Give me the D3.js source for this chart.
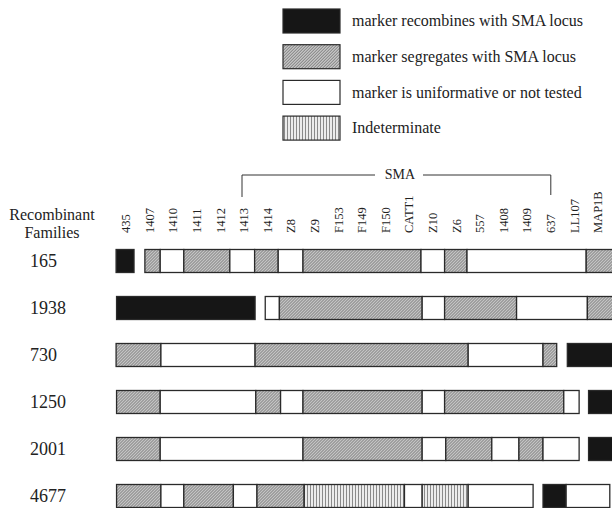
<!DOCTYPE html>
<html>
<head>
<meta charset="utf-8">
<script src="https://cdn.jsdelivr.net/npm/d3@7"></script>
<style>
	body { margin: 0; background: #fff; }
	text { font-family: "Liberation Serif", "Times New Roman", serif; fill: #222; }
</style>
</head>
<body>
<svg id="chart" width="612" height="508"></svg>
<script>
// marker names along the chromosome (left to right)
let markers = ["435", "1407", "1410", "1411", "1412", "1413", "1414", "Z8", "Z9", "F153",
	"F149", "F150", "CATT1", "Z10", "Z6", "557", "1408", "1409", "637", "LL107", "MAP1B"];

let families = ["165", "1938", "730", "1250", "2001", "4677"];

// segments per family: [from, to, type] in marker units (0 = 435, 0.5 = between 435 and 1407)
// R = recombines, S = segregates, U = uninformative, I = indeterminate
let seg165 = [[-0.42, 0.34, "R"], [0.8, 1.45, "S"], [1.45, 2.45, "U"], [2.45, 4.4, "S"], [4.4, 5.45, "U"],
	[5.45, 6.45, "S"], [6.45, 7.5, "U"], [7.5, 12.5, "S"], [12.5, 13.5, "U"], [13.5, 14.45, "S"],
	[14.45, 19.5, "U"], [19.5, 20.8, "S"]];
let seg1938 = [[-0.4, 5.47, "R"], [5.9, 6.5, "U"], [6.5, 12.55, "S"], [12.55, 13.5, "U"], [13.5, 16.55, "S"],
	[16.55, 19.55, "U"], [19.55, 20.8, "S"]];
let seg730 = [[-0.42, 1.48, "S"], [1.48, 5.47, "U"], [5.47, 14.5, "S"], [14.5, 17.67, "U"], [17.67, 18.25, "S"],
	[18.7, 20.8, "R"]];
let seg1250 = [[-0.4, 1.45, "S"], [1.45, 5.5, "U"], [5.5, 6.55, "S"], [6.55, 7.5, "U"], [7.5, 12.55, "S"],
	[12.55, 13.5, "U"], [13.5, 18.55, "S"], [18.55, 19.2, "U"], [19.6, 20.8, "R"]];
let seg2001 = [[-0.4, 1.45, "S"], [1.45, 7.5, "U"], [7.5, 12.55, "S"], [12.55, 13.55, "U"], [13.55, 15.5, "S"],
	[15.5, 16.65, "U"], [16.65, 17.67, "S"], [17.67, 19.2, "U"], [19.6, 20.8, "R"]];
let seg4677 = [[-0.4, 1.48, "S"], [1.48, 2.45, "U"], [2.45, 4.55, "S"], [4.55, 5.55, "U"], [5.55, 7.55, "S"],
	[7.55, 11.8, "I"], [11.8, 12.55, "U"], [12.55, 14.5, "I"], [14.5, 17.25, "U"], [17.67, 18.65, "R"],
	[18.65, 20.5, "U"]];
let segments = [seg165, seg1938, seg730, seg1250, seg2001, seg4677];

let legendKeys = ["R", "S", "U", "I"];
let legendLabels = ["marker recombines with SMA locus", "marker segregates with SMA locus",
	"marker is uniformative or not tested", "Indeterminate"];

// SMA interval spans these markers
let smaFrom = "1413";
let smaTo = "637";

let svg = d3.select("#chart");

// patterns
let defs = svg.append("defs");
let hatch = defs.append("pattern")
	.attr("id", "hatch")
	.attr("patternUnits", "userSpaceOnUse")
	.attr("width", 3).attr("height", 3);
hatch.append("rect").attr("width", 3).attr("height", 3).attr("fill", "#c4c4c4");
hatch.append("path").attr("d", "M-1,1 L1,-1 M0,3 L3,0 M2,4 L4,2")
	.attr("stroke", "#666").attr("stroke-width", 0.8);

let vlines = defs.append("pattern")
	.attr("id", "vlines")
	.attr("patternUnits", "userSpaceOnUse")
	.attr("width", 3).attr("height", 3);
vlines.append("rect").attr("width", 3).attr("height", 3).attr("fill", "#ececec");
vlines.append("rect").attr("x", 1).attr("width", 1).attr("height", 3).attr("fill", "#8a8a8a");

let fills = { R: "#161616", S: "url(#hatch)", U: "#fff", I: "url(#vlines)" };

// scales
let xScale = d3.scaleLinear().domain([0, markers.length - 1]).range([126, 598]);
let yScale = d3.scalePoint().domain(families).range([261, 496]);
let barH = 23;

// column labels (read bottom to top)
svg.append("g").selectAll("text")
	.data(markers)
	.join("text")
	.attr("transform", (d, i) => "translate(" + xScale(i) + ",233) rotate(-90)")
	.attr("dy", "0.33em")
	.attr("text-anchor", "start")
	.attr("font-size", 12.5)
	.text(d => d);

// SMA bracket
let sx0 = xScale(markers.indexOf(smaFrom)) - 2;
let sx1 = xScale(markers.indexOf(smaTo));
let smaMid = 400;
let bracket = svg.append("g").attr("fill", "none").attr("stroke", "#333").attr("stroke-width", 1);
bracket.append("path").attr("d", "M" + sx0 + ",197 V175 H" + (smaMid - 25));
bracket.append("path").attr("d", "M" + (smaMid + 23) + ",175 H" + sx1 + " V195");
svg.append("text")
	.attr("x", smaMid).attr("y", 179)
	.attr("text-anchor", "middle")
	.attr("font-size", 14)
	.text("SMA");

// header
svg.append("text").attr("x", 52).attr("y", 220).attr("text-anchor", "middle")
	.attr("font-size", 16).text("Recombinant");
svg.append("text").attr("x", 52).attr("y", 238).attr("text-anchor", "middle")
	.attr("font-size", 16).text("Families");

// row labels
svg.append("g").selectAll("text")
	.data(families)
	.join("text")
	.attr("x", 30)
	.attr("y", d => yScale(d))
	.attr("dy", "0.35em")
	.attr("font-size", 18)
	.text(d => d);

// bars
let rows = svg.append("g").selectAll("g")
	.data(segments)
	.join("g")
	.attr("transform", (d, i) => "translate(0," + (yScale(families[i]) - barH / 2) + ")");

rows.selectAll("rect")
	.data(d => d)
	.join("rect")
	.attr("x", d => xScale(d[0]))
	.attr("width", d => xScale(d[1]) - xScale(d[0]))
	.attr("y", 0)
	.attr("height", barH)
	.attr("fill", d => fills[d[2]])
	.attr("stroke", "#2a2a2a")
	.attr("stroke-width", 1.3);

// legend
let legend = svg.append("g").selectAll("g")
	.data(legendKeys)
	.join("g")
	.attr("transform", (d, i) => "translate(283," + (21 + i * 35.7) + ")");

legend.append("rect")
	.attr("x", 0).attr("y", -12)
	.attr("width", 57).attr("height", 24)
	.attr("fill", d => fills[d])
	.attr("stroke", "#2a2a2a")
	.attr("stroke-width", 1.2);

legend.append("text")
	.attr("x", 69)
	.attr("dy", "0.32em")
	.attr("font-size", 16)
	.text((d, i) => legendLabels[i]);
</script>
</body>
</html>
